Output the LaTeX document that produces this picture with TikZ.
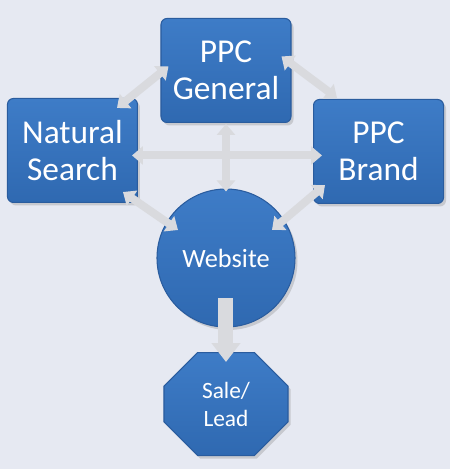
\documentclass[tikz,border=0pt]{standalone}
\usepackage{fontspec}
\setmainfont{Carlito}
\usetikzlibrary{arrows.meta, positioning, shapes.misc, shadows}
\definecolor{bgcol}{HTML}{E6E9F2}
\definecolor{boxtop}{HTML}{3E7CC7}
\definecolor{boxbot}{HTML}{2F69B1}
\definecolor{boxline}{HTML}{2A5C9E}
\definecolor{linkcol}{HTML}{D9DADE}

\begin{document}
\begin{tikzpicture}[every node/.style={text=white},
                    block/.style={rounded corners=0.12cm, top color=boxtop, bottom color=boxbot, draw=boxline, line width=0.6pt, minimum width=2.6cm, minimum height=2.08cm, align=center, font=\fontsize{19}{21}\selectfont, drop shadow={shadow xshift=0.05cm, shadow yshift=-0.06cm, opacity=0.3}},
                    site/.style={circle, top color=boxtop, bottom color=boxbot, draw=boxline, line width=0.6pt, minimum size=2.76cm, font=\fontsize{15}{18}\selectfont, drop shadow={shadow xshift=0.05cm, shadow yshift=-0.06cm, opacity=0.3}},
                    lead/.style={chamfered rectangle, chamfered rectangle xsep=0.6cm, top color=boxtop, bottom color=boxbot, draw=boxline, line width=0.6pt, minimum width=2.48cm, minimum height=2.06cm, align=center, font=\fontsize{13.3}{16}\selectfont, drop shadow={shadow xshift=0.05cm, shadow yshift=-0.06cm, opacity=0.3}},
                    link/.style={line width=0.16cm, draw=linkcol, {Triangle[length=0.22cm, width=0.36cm]}-{Triangle[length=0.22cm, width=0.36cm]}},
                    bigarrow/.style={line width=0.3cm, draw=linkcol, -{Triangle[length=0.38cm, width=0.56cm]}}]
                    \path[use as bounding box, fill=bgcol] (-4.52,-4.22) rectangle (4.48,5.16);
                    \coordinate (center) at (0,0);
                    \node[site](website) at (center){Website};
                    \node[block, above=2.7cm of center](general){PPC\\General};
                    \node[block, above left=1.1cm and 1.76cm of center](natural){Natural\\Search};
                    \node[block, above right=1.08cm and 1.74cm of center](brand){PPC\\Brand};
                    \node[lead, below=1.88cm of center](sale){Sale/\\Lead};

                    \draw[link] ([shift={(-0.42,-0.2)}]natural.north east) -- ([shift={(0.16,0.08)}]general.west);
                    \draw[link] ([shift={(-0.2,0.28)}]general.east) -- ([shift={(0.48,0.02)}]brand.north west);
                    \draw[link] ([shift={(-0.12,-0.1)}]natural.east) -- ([shift={(0.18,-0.08)}]brand.west);
                    \draw[link] ([yshift=-0.02cm]general.south) -- ([yshift=-0.06cm]website.north);
                    \draw[link] ([shift={(-0.3,0.22)}]natural.south east) -- ([shift={(-0.96,0.56)}]website.center);
                    \draw[link] ([shift={(0.24,0.38)}]brand.south west) -- ([shift={(0.92,0.56)}]website.center);
                    \draw[bigarrow] ([yshift=-0.8cm]website.center) -- ([yshift=-0.2cm]sale.north);
                \end{tikzpicture}
\end{document}
